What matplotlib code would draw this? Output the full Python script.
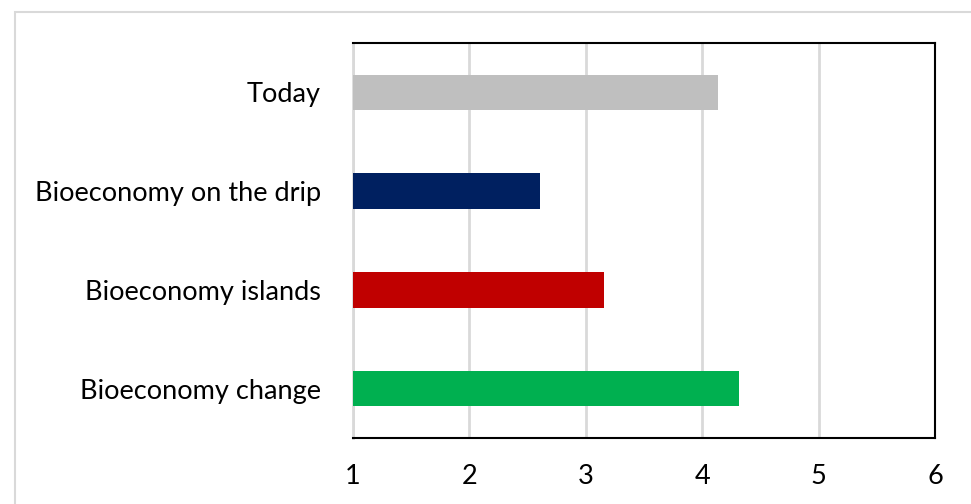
import matplotlib
matplotlib.use("Agg")
import matplotlib.pyplot as plt
from matplotlib.patches import Rectangle

categories = ["Today", "Bioeconomy on the drip", "Bioeconomy islands", "Bioeconomy change"]
values = [4.14, 2.61, 3.16, 4.32]
colors = ["#BFBFBF", "#002060", "#C00000", "#00B050"]
xticks = [1, 2, 3, 4, 5, 6]

plt.rcParams['font.family'] = ['Lato', 'DejaVu Sans']

fig = plt.figure(figsize=(9.71, 5.04), dpi=100)
W, H = 971, 504
ax = fig.add_axes([353 / W, 1 - 438 / H, (935 - 353) / W, (438 - 43) / H])

ypos = list(range(len(categories)))
ax.barh(ypos, [v - 1 for v in values], left=1, height=0.36, color=colors, zorder=3)
ax.set_ylim(len(categories) - 0.5, -0.5)
ax.set_xlim(1, 6)
ax.set_xticks(xticks)
ax.set_xticklabels([str(t) for t in xticks], fontsize=19.5)
ax.set_yticks(ypos)
ax.set_yticklabels(categories, fontsize=19.5)
ax.tick_params(axis='both', length=0)
ax.tick_params(axis='x', pad=18.5)
ax.tick_params(axis='y', pad=23)
ax.grid(axis='x', color='#D9D9D9', linewidth=2, zorder=0)
for s in ['top', 'right', 'bottom']:
    ax.spines[s].set_color('black')
    ax.spines[s].set_linewidth(1.5)
ax.spines['left'].set_color('#D9D9D9')
ax.spines['left'].set_linewidth(2)

fig.patches.append(Rectangle((14.5 / W, -0.1), 1.2, 1 - 11.5 / H + 0.1, transform=fig.transFigure,
                             fill=False, edgecolor='#D9D9D9', linewidth=1.5))

fig.savefig("out.png", dpi=100)
